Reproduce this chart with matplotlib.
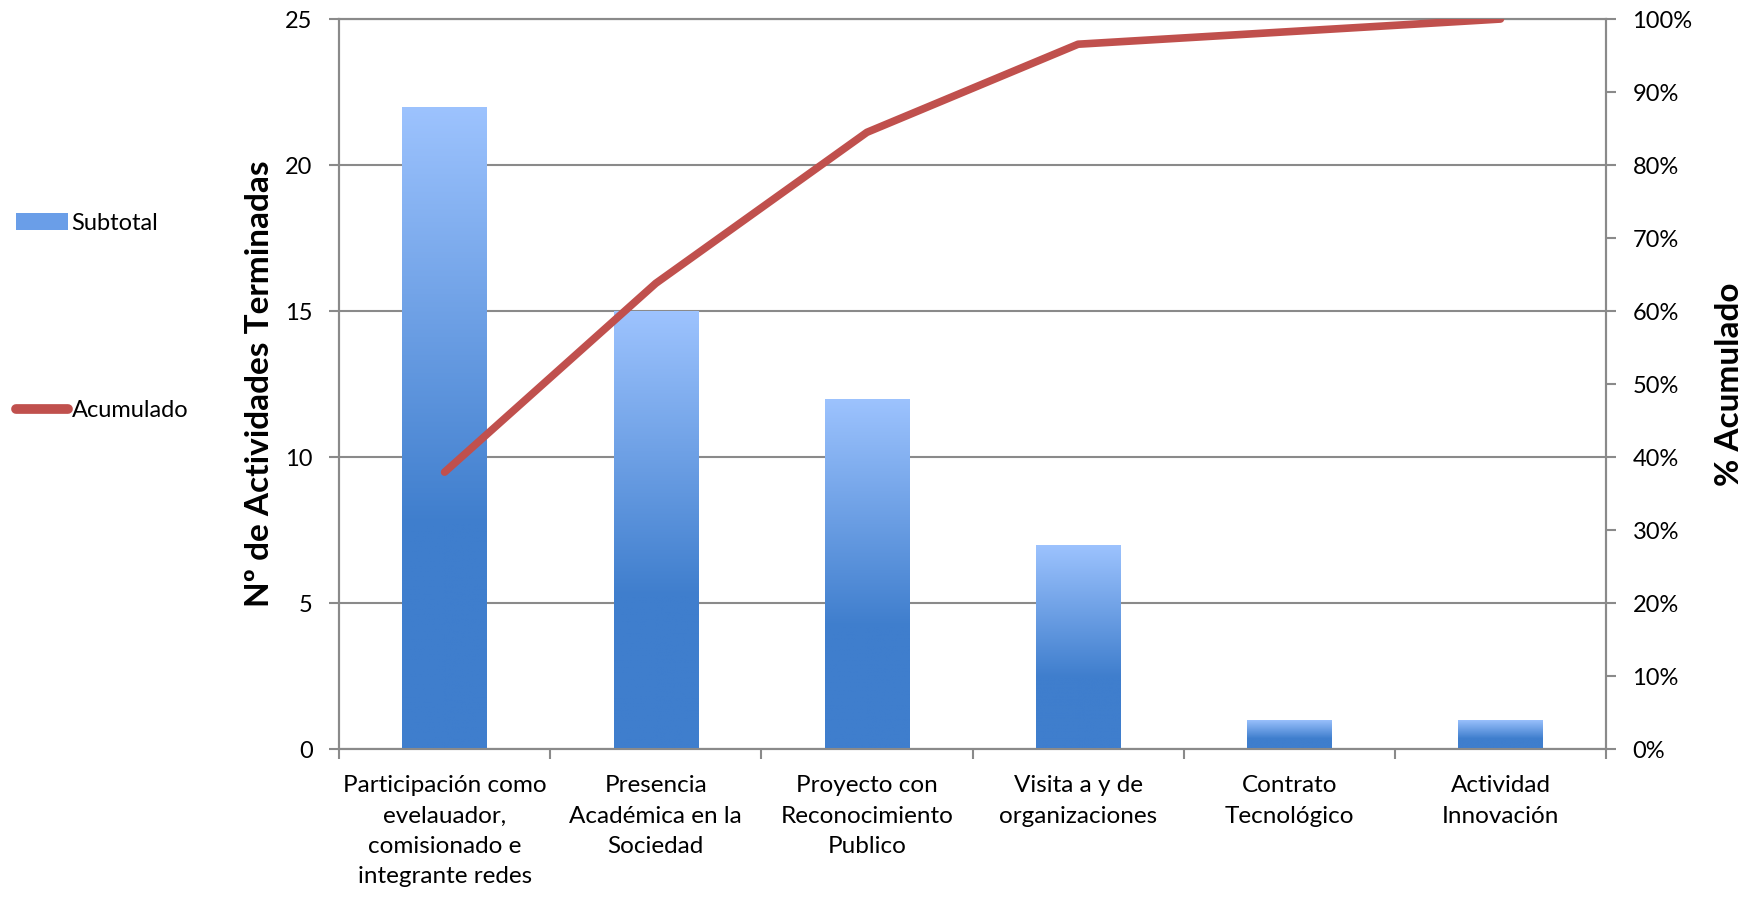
import matplotlib.pyplot as plt
import numpy as np
from matplotlib.patches import Patch
from matplotlib.lines import Line2D
from matplotlib.colors import LinearSegmentedColormap

plt.rcParams['font.family'] = ['Lato', 'DejaVu Sans']

# data
categorias = [
    "Participación como\nevelauador,\ncomisionado e\nintegrante redes",
    "Presencia\nAcadémica en la\nSociedad",
    "Proyecto con\nReconocimiento\nPublico",
    "Visita a y de\norganizaciones",
    "Contrato\nTecnológico",
    "Actividad\nInnovación",
]
subtotal = [22, 15, 12, 7, 1, 1]
acumulado = np.cumsum(subtotal) / np.sum(subtotal)

gris = "#8a8a8a"
rojo = "#c0504d"
azul_claro = "#9dc3fe"
azul_oscuro = "#3f7ecd"

fig = plt.figure(figsize=(17.52, 8.98), dpi=100)
ax = fig.add_axes([0.1935, 0.1659, 0.7232, 0.8129])

x = np.arange(len(categorias))
bars = ax.bar(x, subtotal, width=0.40, color="none", edgecolor="none", zorder=3)

# gradient fill for each bar (light at top, dark at bottom)
cmap = LinearSegmentedColormap.from_list(
    "grad", [(0, azul_oscuro), (0.35, azul_oscuro), (1.0, azul_claro)])
grad = np.linspace(0, 1, 256).reshape(-1, 1)
for b in bars:
    x0, y0 = b.get_x(), b.get_y()
    w, h = b.get_width(), b.get_height()
    im = ax.imshow(grad, cmap=cmap, origin="lower", aspect="auto",
                   extent=[x0, x0 + w, y0, y0 + h], zorder=3)
    im.set_clip_path(b)

ax.set_xlim(-0.5, len(categorias) - 0.5)
ax.set_ylim(0, 25)
ax.set_yticks([0, 5, 10, 15, 20, 25])
ax.yaxis.grid(True, color=gris, linewidth=1.5, zorder=0)
ax.set_axisbelow(True)

ax.set_xticks(x)
ax.set_xticklabels(categorias, fontsize=17.5, linespacing=1.55)
ax.set_xticks(np.arange(-0.5, len(categorias), 1), minor=True)
ax.tick_params(axis="x", which="major", length=0, pad=19)
ax.tick_params(axis="x", which="minor", length=7, width=1.5, color=gris, direction="out")
ax.tick_params(axis="y", length=7, width=1.5, color=gris, labelsize=17, pad=12)

for s in ax.spines.values():
    s.set_color(gris)
    s.set_linewidth(1.5)

ax.set_ylabel("Nº de Actividades Terminadas", fontsize=24, fontweight="bold", labelpad=8)

ax2 = ax.twinx()
ax2.plot(x, acumulado, color=rojo, linewidth=5.5, solid_capstyle="round", zorder=4)
ax2.set_ylim(0, 1)
ax2.set_yticks(np.arange(0, 1.01, 0.1))
ax2.set_yticklabels([f"{int(round(v * 100))}%" for v in np.arange(0, 1.01, 0.1)])
ax2.tick_params(axis="y", length=7, width=1.5, color=gris, labelsize=17, pad=12)
for s in ax2.spines.values():
    s.set_color(gris)
    s.set_linewidth(1.5)
ax2.set_ylabel("% Acumulado", fontsize=24, fontweight="bold", labelpad=16)

handles = [
    Patch(facecolor="#6a9ee8", edgecolor="none"),
    Line2D([0], [0], color=rojo, linewidth=7, solid_capstyle="round"),
]
fig.legend(handles, ["Subtotal", "Acumulado"], loc="upper left",
           bbox_to_anchor=(-0.003, 0.787), frameon=False, fontsize=17,
           labelspacing=7.05, handlelength=2.2, handletextpad=0.15)

fig.savefig("out.png", dpi=100)
